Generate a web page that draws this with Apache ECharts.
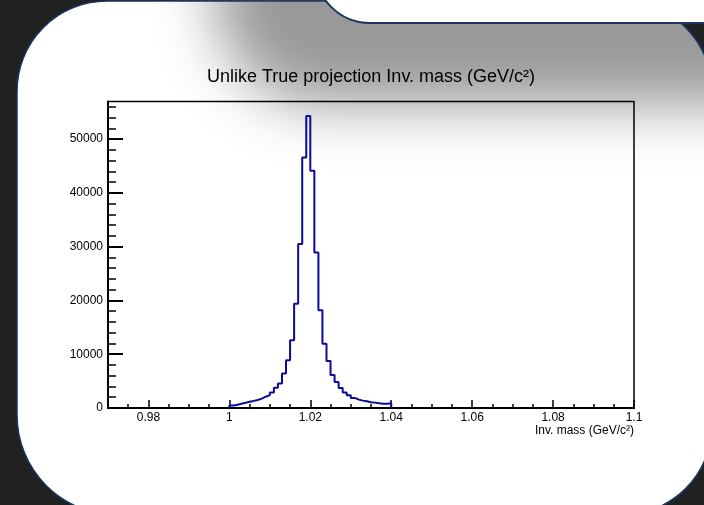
<!DOCTYPE html>
<html>
<head>
<meta charset="utf-8">
<script src="https://cdn.jsdelivr.net/npm/echarts@6/dist/echarts.min.js"></script>
<style>
html,body{margin:0;padding:0;background:#212121;}
#chart{width:704px;height:505px;}
</style>
</head>
<body>
<div id="chart"></div>
<script>
// ---- data ----
const titleText = 'Unlike True projection Inv. mass (GeV/c\u00B2)';
const xAxisTitle = 'Inv. mass (GeV/c\u00B2)';
const xRange = [0.97, 1.1];
const yRange = [0, 57000];
const binStart = 1.000;
const binWidth = 0.001;
const counts = [450, 620, 800, 980, 1150, 1320, 1500, 1750, 2100, 2400,
                2900, 3750, 4550, 6400, 8900, 12600, 19400, 30500, 46600, 54300,
                44100, 28900, 18200, 11950, 8750, 6150, 4850, 3730, 2860, 2370,
                1870, 1560, 1370, 1250, 1060, 1000, 880, 810, 810, 900];
const xMajorTicks = [0.98, 1.00, 1.02, 1.04, 1.06, 1.08, 1.10];
const xMinorTicks = [0.970,0.975,0.980,0.985,0.990,0.995,1.000,1.005,1.010,1.015,1.020,1.025,1.030,1.035,1.040,1.045,1.050,1.055,1.060,1.065,1.070,1.075,1.080,1.085,1.090,1.095,1.100];
const yMajorTicks = [0, 10000, 20000, 30000, 40000, 50000];
const yMinorTicks = [0,2000,4000,6000,8000,10000,12000,14000,16000,18000,20000,22000,24000,26000,28000,30000,32000,34000,36000,38000,40000,42000,44000,46000,48000,50000,52000,54000,56000];

// ---- build histogram outline ----
const edge = i => +(binStart + i * binWidth).toFixed(4);
const histData = [[edge(0), 0]];
counts.forEach((c, i) => histData.push([edge(i), c]));
histData.push([edge(counts.length), counts[counts.length - 1]]);
histData.push([edge(counts.length), 0]);

const FONT = 'Liberation Sans, Arial, Helvetica, sans-serif';
const NAVY = '#1b355e';
const DARK = '#212121';

// decorative page background: mask for the panel's top-right rounded corner
const cornerPts = [[720, -5], [720, 91]];
for (let k = 0; k <= 24; k++) {
  const a = (k / 24) * Math.PI / 2;
  cornerPts.push([622 + 90 * Math.cos(a), 91 - 90 * Math.sin(a)]);
}
cornerPts.push([622, -5]);

const chart = echarts.init(document.getElementById('chart'), null, {renderer: 'canvas'});
chart.setOption({
  animation: false,
  backgroundColor: DARK,
  title: {
    text: titleText,
    left: 371, top: 68, textAlign: 'center', padding: 0,
    textStyle: {fontSize: 18, fontWeight: 'normal', color: '#000', fontFamily: FONT}
  },
  grid: {
    left: 108, right: 70, top: 101.5, bottom: 97,
    show: true, borderColor: '#000', borderWidth: 1.5, backgroundColor: 'transparent'
  },
  graphic: [
    // white panel
    {type: 'rect', z: -100, silent: true,
     shape: {x: 17, y: 1, width: 695, height: 514, r: [90, 90, 90, 100]},
     style: {fill: '#ffffff'}},
    // grey drop shadow (source drawn offscreen, shadow shifted in)
    {type: 'rect', z: -99, silent: true,
     shape: {x: 215 - 3000, y: -400, width: 900, height: 505, r: [0, 0, 0, 110]},
     style: {fill: '#999999', shadowColor: '#999999', shadowBlur: 60, shadowOffsetX: 3000, shadowOffsetY: 0}},
    // dark corner at the panel's top right
    {type: 'polygon', z: -98, silent: true,
     shape: {points: cornerPts},
     style: {fill: DARK}},
    {type: 'rect', z: -98, silent: true,
     shape: {x: 0, y: -10, width: 704, height: 10.5},
     style: {fill: DARK}},
    // panel border
    {type: 'rect', z: -97, silent: true,
     shape: {x: 17, y: 1, width: 695, height: 514, r: [90, 90, 90, 100]},
     style: {fill: 'none', stroke: NAVY, lineWidth: 1.5}},
    // white tab at top right
    {type: 'rect', z: -96, silent: true,
     shape: {x: 315, y: -100, width: 500, height: 123, r: [0, 0, 0, 55]},
     style: {fill: '#ffffff', stroke: NAVY, lineWidth: 2}},
    // x-axis title
    {type: 'text', z: 10, silent: true,
     style: {text: xAxisTitle, x: 634, y: 431, align: 'right', verticalAlign: 'middle',
             fontSize: 12, fontFamily: FONT, fill: '#000'}}
  ],
  xAxis: [
    {type: 'value', min: xRange[0], max: xRange[1], position: 'bottom',
     axisLine: {show: true, onZero: false, lineStyle: {color: '#000', width: 2}},
     axisTick: {show: true, inside: true, length: 8, customValues: xMajorTicks, lineStyle: {color: '#000', width: 1.5}},
     axisLabel: {show: true, customValues: xMajorTicks, margin: 4, fontSize: 12, color: '#000', fontFamily: FONT,
                 formatter: v => String(+(+v).toFixed(3))},
     splitLine: {show: false}},
    {type: 'value', min: xRange[0], max: xRange[1], position: 'bottom',
     axisLine: {show: false, onZero: false},
     axisTick: {show: true, inside: true, length: 4, customValues: xMinorTicks, lineStyle: {color: '#000', width: 1.5}},
     axisLabel: {show: false},
     splitLine: {show: false}}
  ],
  yAxis: [
    {type: 'value', min: yRange[0], max: yRange[1], position: 'left',
     axisLine: {show: true, onZero: false, lineStyle: {color: '#000', width: 2}},
     axisTick: {show: true, inside: true, length: 15, customValues: yMajorTicks, lineStyle: {color: '#000', width: 2}},
     axisLabel: {show: true, customValues: yMajorTicks, margin: 5, fontSize: 12, color: '#000', fontFamily: FONT,
                 formatter: v => String(Math.round(+v))},
     splitLine: {show: false}},
    {type: 'value', min: yRange[0], max: yRange[1], position: 'left',
     axisLine: {show: false, onZero: false},
     axisTick: {show: true, inside: true, length: 8, customValues: yMinorTicks, lineStyle: {color: '#000', width: 1.5}},
     axisLabel: {show: false},
     splitLine: {show: false}}
  ],
  series: [{
    type: 'line', xAxisIndex: 0, yAxisIndex: 0,
    step: 'end', data: histData, showSymbol: false, symbol: 'none',
    lineStyle: {color: '#0a0a96', width: 2}, z: 5
  }]
});
</script>
</body>
</html>
